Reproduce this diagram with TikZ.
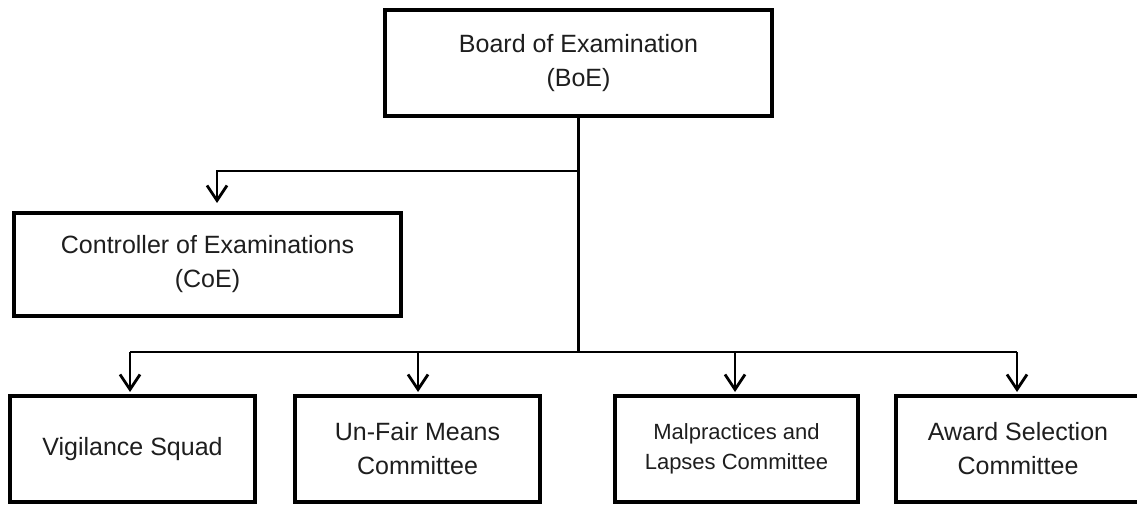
\documentclass[tikz,border=0pt]{standalone}
\usepackage{fontspec}
\setmainfont{Liberation Sans}
\usetikzlibrary{arrows.meta}
\definecolor{txt}{HTML}{1E1E1E}
\tikzset{
  box/.style={draw=black, line width=4pt, fill=white, inner sep=0pt, align=center,
    text=txt, font=\fontsize{25}{34}\selectfont, minimum width=#1},
  box/.default=245pt,
  conn/.style={draw=black, line width=2.2pt},
  arr/.style={conn, -{Straight Barb[length=15pt,width=20pt,line width=2.8pt]}}
}
\begin{document}
\begin{tikzpicture}[x=1pt,y=-1pt]
\useasboundingbox (0,0) rectangle (1137,505);
\clip (0,0) rectangle (1137,505);
\fill[white] (0,0) rectangle (1137,505);

% boxes
\node[box=387pt, minimum height=106pt] (boe) at (578.5,63) {Board of Examination\\(BoE)};
\node[box=387pt, minimum height=103pt] (coe) at (207.5,264.5) {Controller of Examinations\\(CoE)};
\node[box, minimum height=106pt] (vig) at (132.5,449) {Vigilance Squad};
\node[box, minimum height=106pt] (ufm) at (417.5,449) {Un-Fair Means\\Committee};
\node[box=243pt, minimum height=106pt, font=\fontsize{22}{30}\selectfont] (mal) at (736.5,449) {Malpractices and\\Lapses Committee};
\node[box, minimum height=106pt] (awd) at (1018,449) {Award Selection\\Committee};

% junctions
\coordinate (j1) at (578.5,171);
\coordinate (j2) at (578.5,352);
\coordinate (coeA) at (217,171);
\coordinate (vigA) at (130,352);
\coordinate (ufmA) at (418,352);
\coordinate (malA) at (735,352);
\coordinate (awdA) at (1017,352);

% connectors
\draw[conn] (boe.south) -- (j2);
\draw[arr, shorten >=8pt] (j1) -- (coeA) -- (coeA |- coe.north);
\draw[conn] (vigA) -- (awdA);
\draw[arr, shorten >=2pt] (vigA) -- (vigA |- vig.north);
\draw[arr, shorten >=2pt] (ufmA) -- (ufmA |- ufm.north);
\draw[arr, shorten >=2pt] (malA) -- (malA |- mal.north);
\draw[arr, shorten >=2pt] (awdA) -- (awdA |- awd.north);
\end{tikzpicture}
\end{document}
